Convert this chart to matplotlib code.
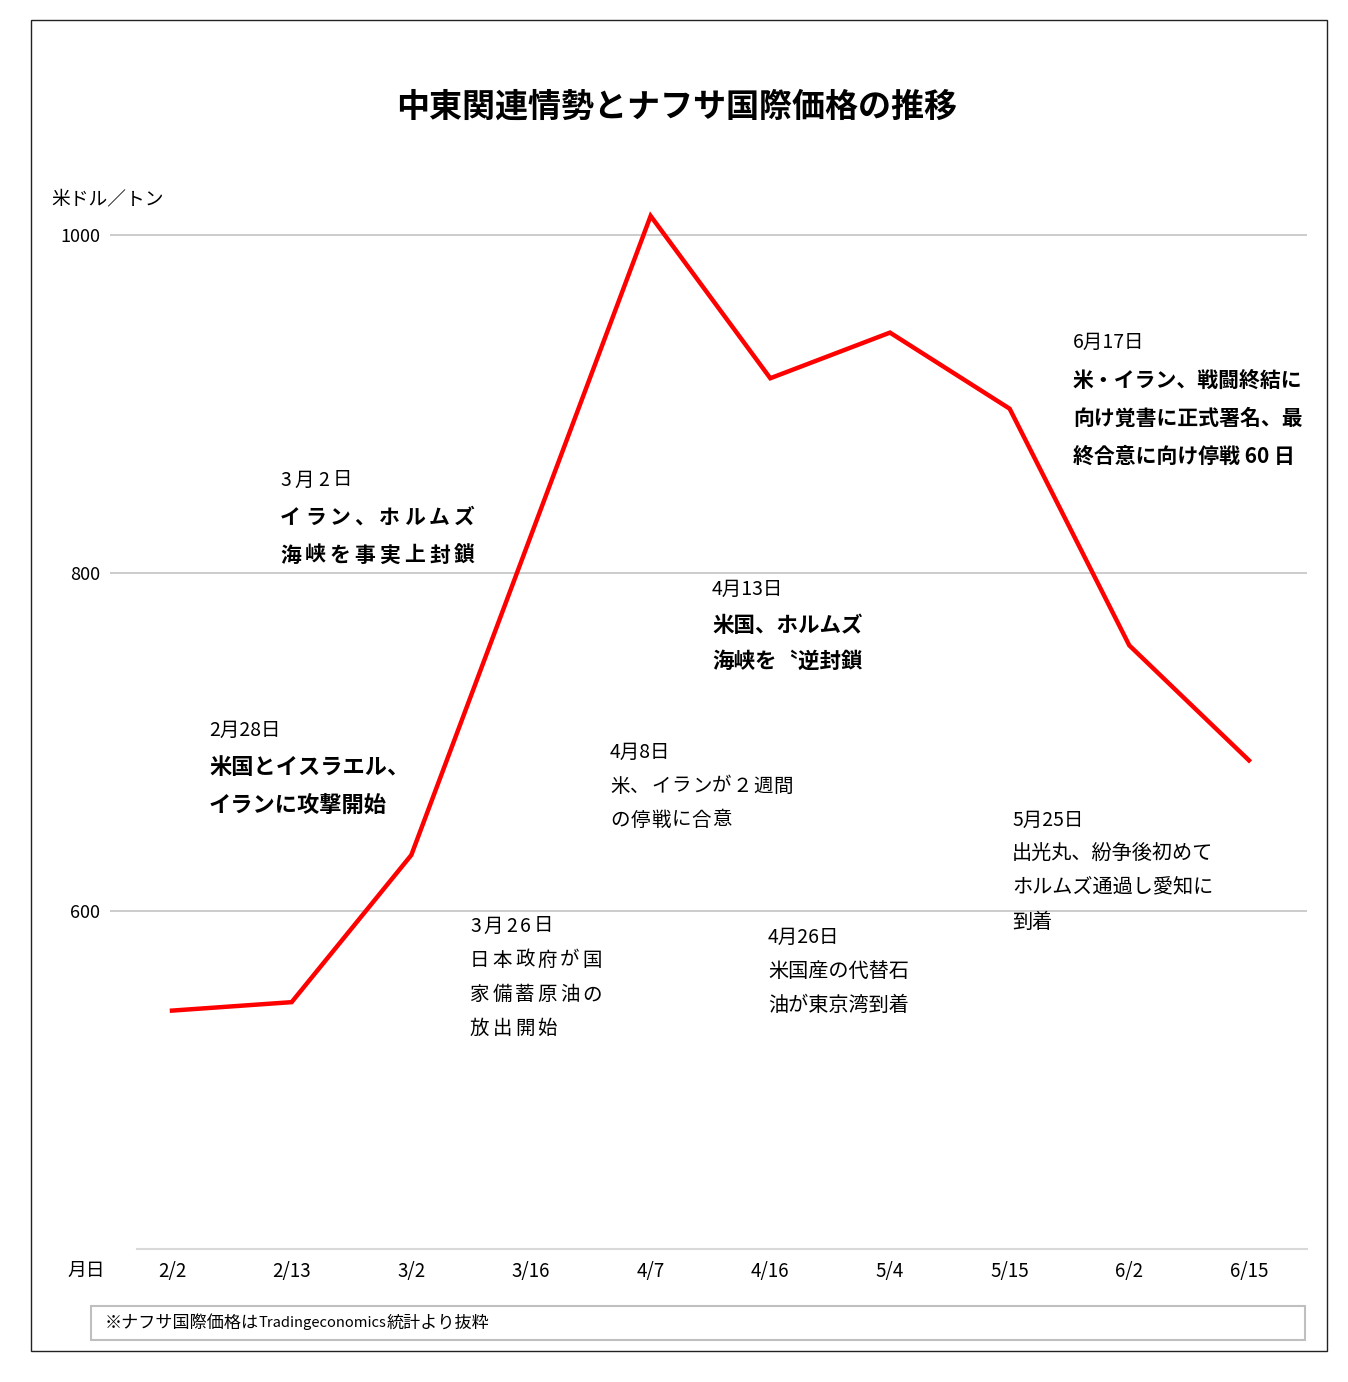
import matplotlib
matplotlib.use('Agg')
import matplotlib.pyplot as plt
from matplotlib.patches import Rectangle
from matplotlib import font_manager
from matplotlib.ft2font import FT2Font

# ---------------- data ----------------
dates = ['2/2', '2/13', '3/2', '3/16', '4/7', '4/16', '5/4', '5/15', '6/2', '6/15']
prices = [541, 546, 633, 822, 1011, 915, 942, 897, 757, 689]
y_ticks = [600, 800, 1000]
y_tick_labels = ['600', '800', '1000']
title = '中東関連情勢とナフサ国際価格の推移'
y_unit = '米ドル／トン'
x_name = '月日'
note_parts = ['※ナフサ国際価格は', 'Tradingeconomics', '統計より抜粋']

ev_0228 = ['2月28日', '米国とイスラエル、', 'イランに攻撃開始']
ev_0302 = ['3月2日', 'イラン、ホルムズ', '海峡を事実上封鎖']
ev_0326 = ['3月26日', '日本政府が国', '家備蓄原油の', '放出開始']
ev_0408 = ['4月8日', '米、イランが２週間', 'の停戦に合意']
ev_0413 = ['4月13日', '米国、ホルムズ', '海峡を〝逆封鎖']
ev_0426 = ['4月26日', '米国産の代替石', '油が東京湾到着']
ev_0525 = ['5月25日', '出光丸、紛争後初めて', 'ホルムズ通過し愛知に', '到着']
ev_0617 = ['6月17日', '米・イラン、戦闘終結に', '向け覚書に正式署名、最', '終合意に向け停戦 60 日']

# ---------------- layout ----------------
W, H = 1348, 1382
CJK = 'Noto Sans CJK JP'
plt.rcParams['font.family'] = [CJK, 'DejaVu Sans']

fig = plt.figure(figsize=(W / 100, H / 100), dpi=100)
fig.patch.set_facecolor('white')


def fx(x):
    return x / W


def fy(y):
    return 1 - y / H


# outer frame
fig.add_artist(Rectangle((fx(31), fy(1351)), fx(1327) - fx(31), fy(20) - fy(1351),
                         transform=fig.transFigure, fill=False, edgecolor='#222222', lw=1.0))

ax_l, ax_r, ax_b, ax_t = 110, 1307, 1249, 150
ax = fig.add_axes([fx(ax_l), fy(ax_b), fx(ax_r) - fx(ax_l), fy(ax_t) - fy(ax_b)])
ax.set_facecolor('none')
x = list(range(len(dates)))
ax.plot(x, prices, color='#ff0000', lw=3.2, solid_joinstyle='miter', zorder=3)
ax.set_xlim(-0.518, 9.485)
ax.set_ylim(400, 1050)
ax.set_yticks(y_ticks)
ax.set_yticklabels(y_tick_labels, fontsize=13, family=CJK)
ax.set_xticks(x)
ax.set_xticklabels(dates, fontsize=13.5, family=CJK)
ax.tick_params(axis='both', length=0)
ax.tick_params(axis='y', pad=7)
ax.tick_params(axis='x', pad=9)
for s in ax.spines.values():
    s.set_visible(False)
ax.grid(axis='y', color='#bfbfbf', lw=1.1)
ax.set_axisbelow(True)
# bottom axis line
ax.axhline(400, xmin=(137 - ax_l) / (ax_r - ax_l), xmax=1, color='#d9d9d9', lw=1.5, clip_on=False)

fig.text(fx(677), fy(107), title, fontsize=23.8, fontweight='bold', family=CJK, ha='center', va='center')
fig.text(fx(51), fy(199), y_unit, fontsize=13.5, family=CJK, ha='left', va='center')
fig.text(fx(67), fy(1270), x_name, fontsize=13.5, family=CJK, ha='left', va='center')

_fonts = {}


def advance(ch, size, weight):
    key = weight
    if key not in _fonts:
        path = font_manager.findfont(font_manager.FontProperties(family=CJK, weight=weight))
        _fonts[key] = FT2Font(path)
    f = _fonts[key]
    f.set_size(size, 100)
    g = f.load_char(ord(ch))
    return g.linearHoriAdvance / 65536


def width(s, size, weight='normal'):
    return sum(advance(ch, size, weight) for ch in s)


def put(xp, yp, s, size, weight='normal', track=0):
    if track == 0:
        fig.text(fx(xp), fy(yp), s, fontsize=size, fontweight=weight,
                 family=CJK, ha='left', va='center')
        return
    cx = xp
    for ch in s:
        fig.text(fx(cx), fy(yp), ch, fontsize=size, fontweight=weight,
                 family=CJK, ha='left', va='center')
        cx += advance(ch, size, weight) + track


def event(xp, y0, lines, step, date_size, body_size, weight, track=0, date_track=0):
    put(xp, y0, lines[0], date_size, 'normal', date_track)
    for i, ln in enumerate(lines[1:]):
        put(xp, y0 + step * (i + 1), ln, body_size, weight, track)


# footnote box
fig.add_artist(Rectangle((fx(91), fy(1340)), fx(1305) - fx(91), fy(1306) - fy(1340),
                         transform=fig.transFigure, fill=False, edgecolor='#bfbfbf', lw=1.5))
cx = 105
for part, sz in zip(note_parts, [12.3, 10.6, 12.3]):
    fig.text(fx(cx), fy(1323), part, fontsize=sz, family=CJK, ha='left', va='center')
    cx += width(part, sz)

event(209, 730, ev_0228, 37.5, 14, 16, 'bold')
event(280, 480, ev_0302, 37.5, 14, 15, 'bold', track=4, date_track=4)
event(470, 926, ev_0326, 34.3, 14, 14, 'normal', track=3, date_track=3)
event(610, 752, ev_0408, 34, 14, 14, 'normal', track=1)
event(712, 589, ev_0413, 36, 14, 15.5, 'bold')
event(768, 937, ev_0426, 34, 14, 14.5, 'normal')
event(1012, 820, ev_0525, 34, 14, 14.5, 'normal')
event(1073, 342, ev_0617, 38, 14, 15, 'bold')

fig.savefig('out.png', dpi=100, facecolor='white')
